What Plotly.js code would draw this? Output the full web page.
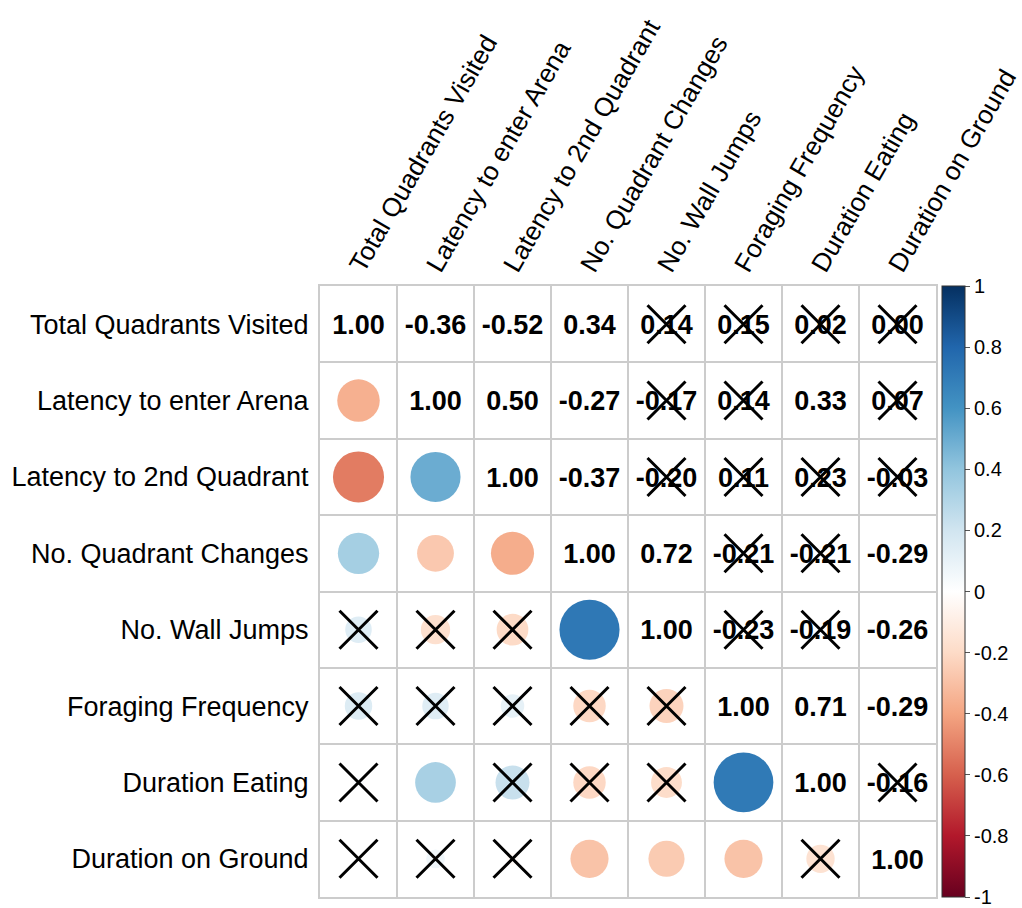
<!DOCTYPE html>
<html>
<head>
<meta charset="utf-8">
<script src="https://cdn.plot.ly/plotly-3.0.1.min.js"></script>
<style>
  html, body { margin: 0; padding: 0; background: #ffffff; }
  #chart { width: 1022px; height: 908px; }
</style>
</head>
<body>
<div id="chart"></div>
<script>
// Behavioural variables (rows top-to-bottom, columns left-to-right)
const variables = [
  "Total Quadrants Visited",
  "Latency to enter Arena",
  "Latency to 2nd Quadrant",
  "No. Quadrant Changes",
  "No. Wall Jumps",
  "Foraging Frequency",
  "Duration Eating",
  "Duration on Ground"
];

// Pearson correlation matrix (symmetric)
const corr = [
  [ 1.00, -0.36, -0.52,  0.34,  0.14,  0.15,  0.02,  0.00],
  [-0.36,  1.00,  0.50, -0.27, -0.17,  0.14,  0.33,  0.07],
  [-0.52,  0.50,  1.00, -0.37, -0.20,  0.11,  0.23, -0.03],
  [ 0.34, -0.27, -0.37,  1.00,  0.72, -0.21, -0.21, -0.29],
  [ 0.14, -0.17, -0.20,  0.72,  1.00, -0.23, -0.19, -0.26],
  [ 0.15,  0.14,  0.11, -0.21, -0.23,  1.00,  0.71, -0.29],
  [ 0.02,  0.33,  0.23, -0.21, -0.19,  0.71,  1.00, -0.16],
  [ 0.00,  0.07, -0.03, -0.29, -0.26, -0.29, -0.16,  1.00]
];

// 1 = correlation not significant (crossed out)
const notSignificant = [
  [0, 0, 0, 0, 1, 1, 1, 1],
  [0, 0, 0, 0, 1, 1, 0, 1],
  [0, 0, 0, 0, 1, 1, 1, 1],
  [0, 0, 0, 0, 0, 1, 1, 0],
  [1, 1, 1, 0, 0, 1, 1, 0],
  [1, 1, 1, 1, 1, 0, 0, 0],
  [1, 0, 1, 1, 1, 0, 0, 1],
  [1, 1, 1, 0, 0, 0, 1, 0]
];

// Colour bar ticks
const colorbarTicks = [1, 0.8, 0.6, 0.4, 0.2, 0, -0.2, -0.4, -0.6, -0.8, -1];

// Diverging red-blue palette
const rdbu = [
  [0.0, "#67001F"], [0.1, "#B2182B"], [0.2, "#D6604D"], [0.3, "#F4A582"],
  [0.4, "#FDDBC7"], [0.5, "#FFFFFF"], [0.6, "#D1E5F0"], [0.7, "#92C5DE"],
  [0.8, "#4393C3"], [0.9, "#2166AC"], [1.0, "#053061"]
];

const W = 1022, H = 908;
const margin = { l: 320, r: 86, t: 286, b: 11 };
const n = variables.length;
const cellPx = (W - margin.l - margin.r) / n;
const font = "Liberation Sans, Arial, Helvetica, sans-serif";

// Lower triangle: circles whose area follows |r|
const cx = [], cy = [], cSize = [], cColor = [];
// Upper triangle (and diagonal): printed coefficients
const tx = [], ty = [], tText = [];
// Non-significant cells
const xx = [], xy = [];

for (let i = 0; i < n; i++) {
  for (let j = 0; j < n; j++) {
    const r = corr[i][j];
    if (i > j) {
      cx.push(j + 1); cy.push(i + 1);
      cSize.push(0.92 * cellPx * Math.sqrt(Math.abs(r)));
      cColor.push(r);
    } else {
      tx.push(j + 1); ty.push(i + 1.04);
      tText.push(r.toFixed(2));
    }
    if (notSignificant[i][j]) { xx.push(j + 1); xy.push(i + 1); }
  }
}

const circles = {
  type: "scatter", mode: "markers", x: cx, y: cy, hoverinfo: "skip",
  marker: {
    symbol: "circle", size: cSize, color: cColor, opacity: 1,
    colorscale: rdbu, cmin: -1, cmax: 1, line: { width: 0 },
    showscale: true,
    colorbar: {
      x: 1 + 6 / (W - margin.l - margin.r), xanchor: "left",
      y: 0.5, yanchor: "middle", len: 1, lenmode: "fraction",
      thickness: 23, outlinewidth: 1, outlinecolor: "#333333",
      tickmode: "array", tickvals: colorbarTicks,
      ticktext: colorbarTicks.map(v => String(v)),
      ticks: "outside", ticklen: 5, tickcolor: "#555555",
      tickfont: { family: font, size: 20, color: "#000000" },
      xpad: 0, ypad: 0
    }
  }
};

const numbers = {
  type: "scatter", mode: "text", x: tx, y: ty, text: tText, hoverinfo: "skip",
  textposition: "middle center",
  textfont: { family: font, size: 27, color: "#000000", weight: "bold" }
};

const crosses = {
  type: "scatter", mode: "markers", x: xx, y: xy, hoverinfo: "skip",
  marker: { symbol: "x-thin-open", size: 38, color: "#000000", opacity: 1,
            line: { width: 3, color: "#000000" } }
};

const ticks = variables.map((_, k) => k + 1);
const gridLines = variables.slice(1).map((_, k) => k + 1.5);

const axisCommon = {
  tickmode: "array", tickvals: ticks, ticktext: variables,
  showgrid: false, zeroline: false,
  showline: true, mirror: true, linecolor: "#cccccc", linewidth: 2,
  ticks: "outside", ticklen: 4, tickcolor: "rgba(0,0,0,0)",
  tickfont: { family: font, size: 27, color: "#000000" },
  ticklabeloverflow: "allow",
  minor: { tickmode: "array", tickvals: gridLines, showgrid: true,
           gridcolor: "#cccccc", gridwidth: 2, ticks: "" },
  fixedrange: true
};

const layout = {
  width: W, height: H, margin: margin, showlegend: false,
  paper_bgcolor: "#ffffff", plot_bgcolor: "#ffffff",
  xaxis: Object.assign({}, axisCommon, {
    range: [0.5, n + 0.5], side: "top", tickangle: -60,
    ticks: "", ticklabelstandoff: -7, ticklabelshift: -6,
    tickfont: { family: font, size: 26, color: "#000000" }
  }),
  yaxis: Object.assign({}, axisCommon, {
    range: [n + 0.5, 0.5]
  })
};

Plotly.newPlot("chart", [circles, numbers, crosses], layout,
               { displayModeBar: false, staticPlot: true });
</script>
</body>
</html>
